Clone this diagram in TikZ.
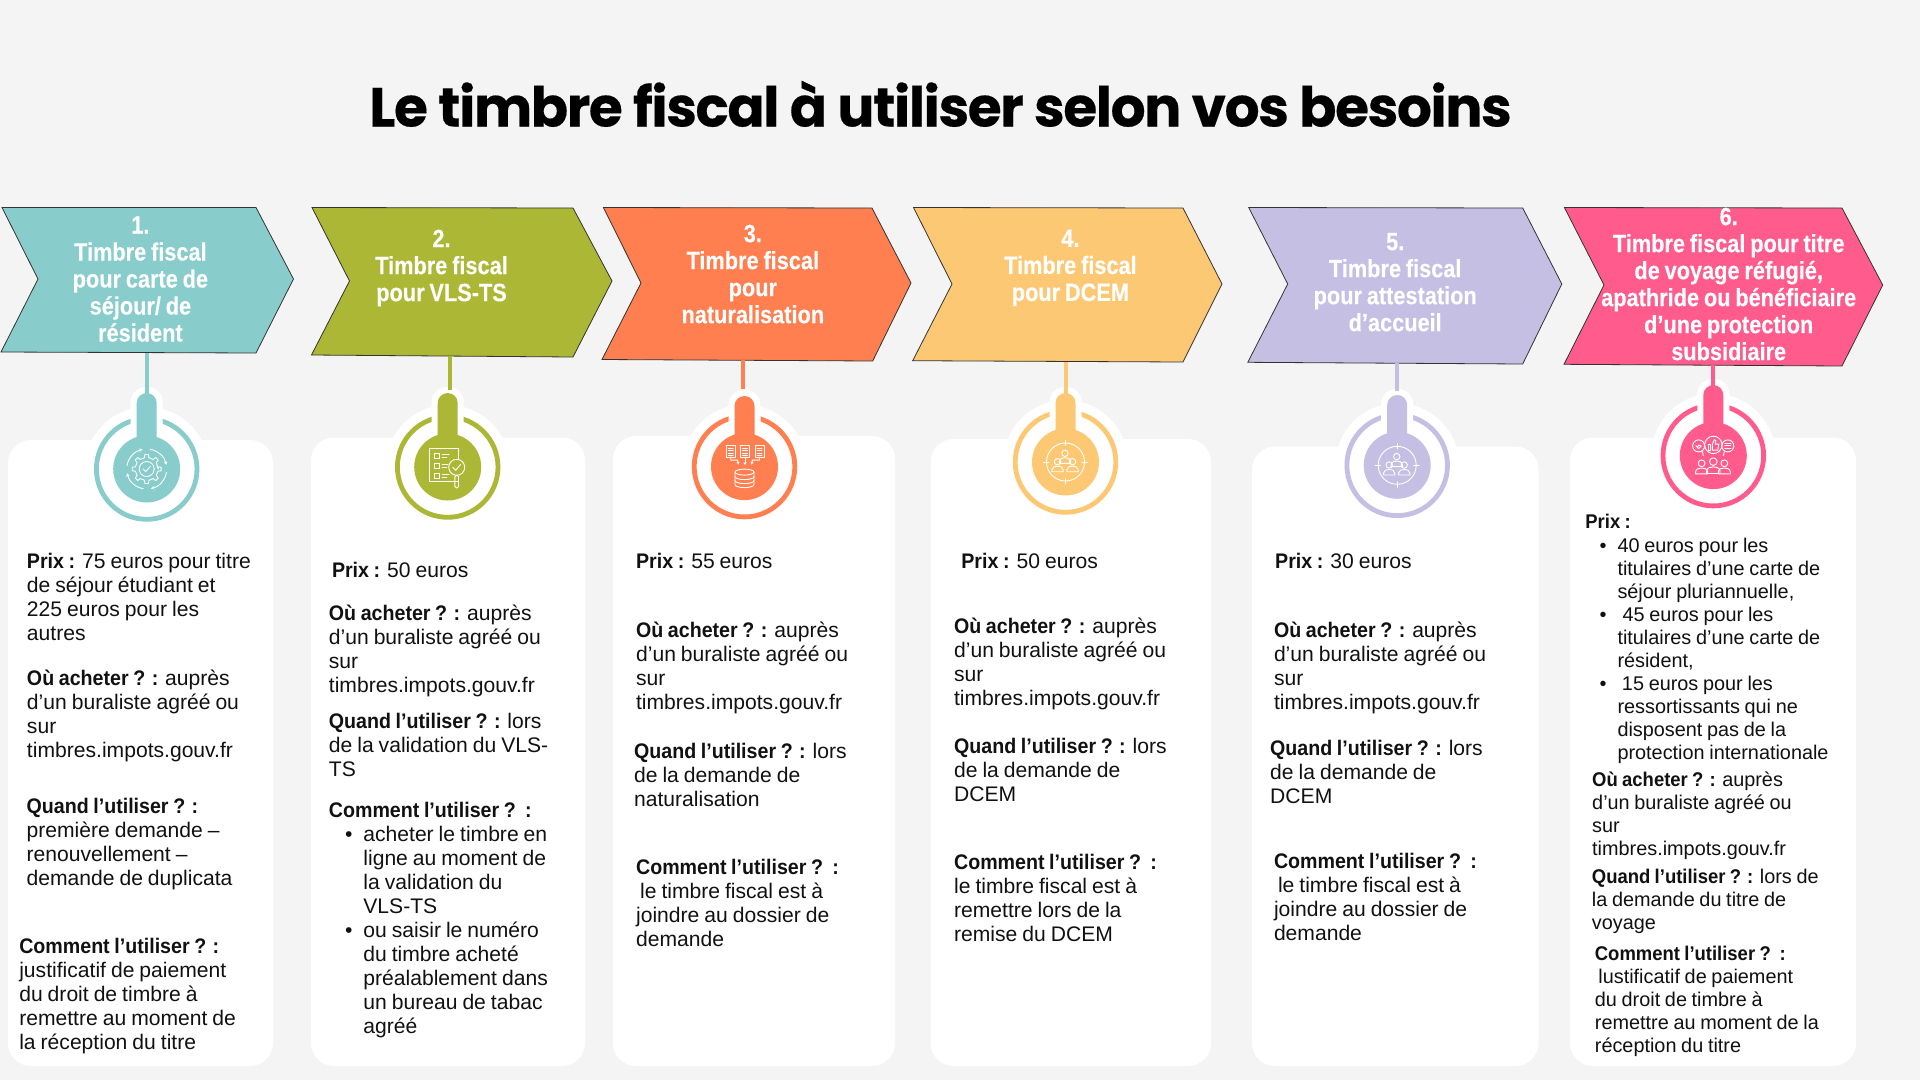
\documentclass[tikz,border=0pt]{standalone}
\usepackage{fontspec}
\usetikzlibrary{arrows.meta}
\setmainfont[WordSpace=0.85]{Liberation Sans}
\newfontfamily\titlef[LetterSpace=-2.55,FakeBold=0.3]{Poppins}
\newfontfamily\headf[FakeStretch=0.87,FakeBold=0.15,WordSpace=0.8]{Liberation Sans}
\newfontfamily\labf[FakeStretch=0.93,WordSpace=0.85]{Liberation Sans}
\newcommand\lab[1]{{\labf\bfseries #1}}
\definecolor{bgc}{HTML}{F4F4F4}
\definecolor{teal1}{HTML}{89CCCC}
\definecolor{olive1}{HTML}{ACB835}
\definecolor{coral1}{HTML}{FF7F50}
\definecolor{yell1}{HTML}{FDC874}
\definecolor{lav1}{HTML}{C5BFE3}
\definecolor{pink1}{HTML}{FF5C8D}
\definecolor{ink}{HTML}{111111}
\tikzset{
  x=1pt,y=-1pt,
  chev/.style={draw=black!80,line width=0.8pt,line join=miter},
  card/.style={fill=white,rounded corners=23pt},
  head/.style={anchor=north,inner sep=0pt,align=center,text=white,yshift=19.6pt,
     font=\headf\bfseries\fontsize{25}{27}\selectfont,execute at begin node=\strut},
  txt/.style={anchor=north west,inner sep=0pt,align=left,text=ink,yshift=17.6pt,
     font=\fontsize{21.1}{24}\selectfont,execute at begin node=\strut},
  txs/.style={anchor=north west,inner sep=0pt,align=left,text=ink,yshift=16.9pt,
     font=\fontsize{19.85}{23}\selectfont,execute at begin node=\strut},
  ic/.style={draw=white,line width=0.9pt,line join=round,line cap=round},
  link/.style={line width=4pt},
}
\newcommand\badge[4]{% colour, cx, cy, stem top
  \fill[white] (#2,#3) circle (62);
  \draw[#1,line width=4.8pt] (#2,#3) circle (50.3);
  \fill[white,rounded corners=15pt] ({#2-16},#3) rectangle ({#2+16},{#4-6});
  \fill[#1,rounded corners=10pt] ({#2-10},#3) -- ({#2-10},#4) -- ({#2+10},#4) -- ({#2+10},#3) -- cycle;
  \fill[#1] (#2,#3) circle (33.5);
}
\newcommand\personic[3]{%
  \begin{scope}[shift={(#1,#2)},scale=#3]
    \draw[ic] (0,0) circle (4);
    \draw[ic] (-7,12.5) -- (-7,10) .. controls (-7,6.5) and (-3,5.5) .. (0,5.5) .. controls (3,5.5) and (7,6.5) .. (7,10) -- (7,12.5) -- cycle;
  \end{scope}}
\newcommand\groupic[2]{%
  \begin{scope}[shift={(#1,#2)}]
    \draw[ic] (0,0) circle (19);
    \foreach \a in {0,90,180,270}{\draw[ic] (\a:16.5) -- (\a:22);}
    \personic{-0.5}{-8.7}{0.8}
    \personic{-8}{-0.3}{0.8}
    \personic{7}{-0.3}{0.8}
  \end{scope}}
\begin{document}
\begin{tikzpicture}
\useasboundingbox (0,0) rectangle (1920,1080);
\fill[bgc] (0,0) rectangle (1920,1080);

% title
\node[name=title,anchor=base west,inner sep=0pt,text=black,font=\titlef\bfseries\fontsize{55}{60}\selectfont] at (369,126.5) {Le timbre fiscal à utiliser selon vos besoins};

% cards
\path[card] (8,440) rectangle (273,1066);
\path[card] (311,437.5) rectangle (585,1066);
\path[card] (613,436) rectangle (895,1066);
\path[card] (930.5,439) rectangle (1211,1066);
\path[card] (1252,446.5) rectangle (1538.5,1066);
\path[card] (1570,437.5) rectangle (1856,1066);

% chevrons
\filldraw[chev,fill=teal1] (2,207.5) -- (256,207.5) -- (293.5,279) -- (256,353) -- (1,352) -- (38,279) -- cycle;
\filldraw[chev,fill=olive1] (312,207.5) -- (573,208) -- (612,281) -- (573,357) -- (311.5,355) -- (349.5,281) -- cycle;
\filldraw[chev,fill=coral1] (603.4,207.5) -- (872,208) -- (911,283) -- (872.7,361) -- (602,359.5) -- (641,283) -- cycle;
\filldraw[chev,fill=yell1] (913.5,207.5) -- (1183,208) -- (1222,284) -- (1183,362) -- (912.7,360.7) -- (952,284) -- cycle;
\filldraw[chev,fill=lav1] (1248.7,207.5) -- (1522.7,208) -- (1561.8,284) -- (1522.7,364) -- (1247.8,362.3) -- (1287.7,284) -- cycle;
\filldraw[chev,fill=pink1] (1564.4,207.5) -- (1842,208) -- (1882.7,285) -- (1842,366) -- (1564,364.3) -- (1604,285) -- cycle;

% badges
\badge{teal1}{146.7}{469}{393}
\badge{olive1}{447.7}{467}{393}
\badge{coral1}{744.5}{466.6}{396}
\badge{yell1}{1065.5}{462}{393}
\badge{lav1}{1397.2}{465.3}{395}
\badge{pink1}{1713.3}{455.6}{385}

% connectors
\coordinate (c1a) at (147,353); \coordinate (c1b) at (147,394);
\coordinate (c2a) at (449.5,356); \coordinate (c2b) at (449.5,390);
\coordinate (c3a) at (743,360); \coordinate (c3b) at (743,389);
\coordinate (c4a) at (1065.5,361.5); \coordinate (c4b) at (1065.5,394);
\coordinate (c5a) at (1397.4,363); \coordinate (c5b) at (1397.4,391);
\coordinate (c6a) at (1713,365); \coordinate (c6b) at (1713,386);
\draw[link,teal1] (c1a) -- (c1b);
\draw[link,olive1] (c2a) -- (c2b);
\draw[link,coral1] (c3a) -- (c3b);
\draw[link,yell1] (c4a) -- (c4b);
\draw[link,lav1] (c5a) -- (c5b);
\draw[link,pink1] (c6a) -- (c6b);

% icon 1 : gear
\begin{scope}[shift={(146.7,469)}]
  \draw[ic] (0,0) circle (7.5);
  \draw[ic] (-3.5,0) -- (-1,2.6) -- (3.6,-2.6);
  \draw[ic] (0:11.5) \foreach \a in {0,45,...,315}{ -- ({\a-11}:11.5) -- ({\a-7}:14.6) -- ({\a+7}:14.6) -- ({\a+11}:11.5)} -- cycle;
  \foreach \a in {10,100,190,280}{\draw[ic,-{Stealth[length=3.5pt,width=3.5pt]}] (\a:20) arc (\a:\a+68:20);}
\end{scope}

% icon 2 : checklist
\begin{scope}[shift={(447.7,467)}]
  \draw[ic] (-18.7,-18.7) rectangle (10.7,14.7);
  \foreach \yy in {-11.3,-1.3,8.7}{
    \draw[ic] (-13.3,\yy-2.5) rectangle (-8.3,\yy+2.5);
    \draw[ic] (-5.5,\yy-1.5) -- (1.5,\yy-1.5);
    \draw[ic] (-5.5,\yy+1.5) -- (-1,\yy+1.5);
  }
  \fill[olive1] (9,0.3) circle (8.8);
  \draw[ic] (9,0.3) circle (8);
  \draw[ic] (5,0.3) -- (8,3.3) -- (13,-2.7);
  \draw[ic,rounded corners=1.5pt] (7.2,8.3) rectangle (10.8,21);
\end{scope}

% icon 3 : documents to database
\begin{scope}[shift={(744.5,466.6)}]
  \foreach \xx in {-13.8,0.5,15}{
    \draw[ic] (\xx-4.5,-21) rectangle (\xx+4.5,-9.5);
    \foreach \yy in {-18.5,-16,-13.5,-11.5}{\draw[ic,line width=0.6pt] (\xx-2.5,\yy) -- (\xx+2.5,\yy);}
  }
  \draw[ic,-{Stealth[length=3pt,width=3pt]}] (-13.8,-9.5) -- (-13.8,-6.5) -- (-7,-6.5) -- (-6,-2);
  \draw[ic,-{Stealth[length=3pt,width=3pt]}] (0.5,-9.5) -- (0.5,-1.5);
  \draw[ic,-{Stealth[length=3pt,width=3pt]}] (15,-9.5) -- (15,-6.5) -- (8,-6.5) -- (7,-2);
  \draw[ic] (0,5.5) ellipse (9.5 and 3);
  \draw[ic] (-9.5,5.5) -- (-9.5,18) arc (180:0:9.5 and 3) -- (9.5,5.5);
  \draw[ic] (-9.5,10) arc (180:0:9.5 and 3);
  \draw[ic] (-9.5,14) arc (180:0:9.5 and 3);
\end{scope}

% icon 4 and 5 : group in target
\groupic{1065.5}{462}
\groupic{1397.2}{465.3}

% icon 6 : speech bubbles and people
\begin{scope}[shift={(1713.3,455.6)}]
  \draw[ic] (0,-10.7) circle (8.7);
  \draw[ic] (-14.7,-9.7) circle (6);
  \draw[ic] (14.5,-9.7) circle (6);
  \draw[ic] (-14.7,-7) -- (-17.5,-10) arc (180:0:1.4) -- (-14.7,-10.5) -- (-12,-9.7) -- cycle;
  \foreach \yy in {-12,-9.7,-7.4}{\draw[ic] (11.5,\yy) -- (17.5,\yy);}
  \draw[ic] (-5,-11.5) rectangle (-2.5,-5.5);
  \draw[ic] (-1,-11) -- (1,-16) -- (2.5,-15) -- (2,-11.5) -- (5.5,-11.5) -- (4.5,-5.5) -- (-1,-5.5) -- cycle;
  \draw[ic] (-11,-4) -- (-10,0);
  \draw[ic] (11,-4) -- (10,0);
  \personic{-11.7}{7.7}{0.85}
  \personic{11}{7.7}{0.85}
  \personic{0}{6}{0.95}
\end{scope}

% chevron headings
\node[head,name=h1] at (140.4,235.7) {1.\\Timbre fiscal\\pour carte de\\séjour/ de\\résident};
\node[head,name=h2] at (441.5,249.1) {2.\\Timbre fiscal\\pour VLS-TS};
\node[head,name=h3] at (752.8,244.1) {3.\\Timbre fiscal\\pour\\naturalisation};
\node[head,name=h4] at (1070.4,249.1) {4.\\Timbre fiscal\\pour DCEM};
\node[head,name=h5] at (1395.2,252.4) {5.\\Timbre fiscal\\pour attestation\\d’accueil};
\node[head,name=h6] at (1728.7,227.1) {6.\\Timbre fiscal pour titre\\de voyage réfugié,\\apathride ou bénéficiaire\\d’une protection\\subsidiaire};

% card 1
\node[txt,name=a1] at (26.8,570.3) {\lab{Prix :} 75 euros pour titre\\de séjour étudiant et\\225 euros pour les\\autres};
\node[txt,name=a2] at (26.8,687.1) {\lab{Où acheter ? :} auprès\\d’un buraliste agréé ou\\sur\\timbres.impots.gouv.fr};
\node[txt,name=a3] at (26.4,815.2) {\lab{Quand l’utiliser ? :}\\première demande –\\renouvellement –\\demande de duplicata};
\node[txt,name=a4] at (19.1,955.2) {\lab{Comment l’utiliser ? :}\\justificatif de paiement\\du droit de timbre à\\remettre au moment de\\la réception du titre};

% card 2
\node[txt,name=b1] at (331.8,577.7) {\lab{Prix :} 50 euros};
\node[txt,name=b2] at (328.7,622.2) {\lab{Où acheter ? :} auprès\\d’un buraliste agréé ou\\sur\\timbres.impots.gouv.fr};
\node[txt,name=b3] at (328.7,730.3) {\lab{Quand l’utiliser ? :} lors\\de la validation du VLS-\\TS};
\node[txt,name=b4] at (328.7,818) {\lab{Comment l’utiliser ?\ \ :}};
\node[txt,name=b5] at (363.2,843.6) {\llap{\textbullet\hspace{11pt}}acheter le timbre en\\ligne au moment de\\la validation du\\VLS-TS};
\node[txt,name=b6] at (363.2,939.4) {\llap{\textbullet\hspace{11pt}}ou saisir le numéro\\du timbre acheté\\préalablement dans\\un bureau de tabac\\agréé};

% card 3
\node[txt,name=c1] at (635.9,569.5) {\lab{Prix :} 55 euros};
\node[txt,name=c2] at (635.9,639.1) {\lab{Où acheter ? :} auprès\\d’un buraliste agréé ou\\sur\\timbres.impots.gouv.fr};
\node[txt,name=c3] at (633.9,760.4) {\lab{Quand l’utiliser ? :} lors\\de la demande de\\naturalisation};
\node[txt,name=c4] at (635.9,876.3) {\lab{Comment l’utiliser ?\ \ :}\\\hspace*{4pt}le timbre fiscal est à\\joindre au dossier de\\demande};

% card 4
\node[txt,name=d1] at (961.2,569.5) {\lab{Prix :} 50 euros};
\node[txt,name=d2] at (953.9,635.2) {\lab{Où acheter ? :} auprès\\d’un buraliste agréé ou\\sur\\timbres.impots.gouv.fr};
\node[txt,name=d3] at (953.9,755.6) {\lab{Quand l’utiliser ? :} lors\\de la demande de\\DCEM};
\node[txt,name=d4] at (953.9,872) {\lab{Comment l’utiliser ?\ \ :}\\le timbre fiscal est à\\remettre lors de la\\remise du DCEM};

% card 5
\node[txt,name=e1] at (1275,569.2) {\lab{Prix :} 30 euros};
\node[txt,name=e2] at (1273.8,639.3) {\lab{Où acheter ? :} auprès\\d’un buraliste agréé ou\\sur\\timbres.impots.gouv.fr};
\node[txt,name=e3] at (1270,757.3) {\lab{Quand l’utiliser ? :} lors\\de la demande de\\DCEM};
\node[txt,name=e4] at (1273.8,870.5) {\lab{Comment l’utiliser ?\ \ :}\\\hspace*{4pt}le timbre fiscal est à\\joindre au dossier de\\demande};

% card 6
\node[txs,name=f1] at (1585.2,528.9) {\lab{Prix :}};
\node[txs,name=f2] at (1617.3,554.9) {\llap{\textbullet\hspace{11pt}}40 euros pour les\\titulaires d’une carte de\\séjour pluriannuelle,};
\node[txs,name=f3] at (1617.3,623.9) {\llap{\textbullet\hspace{11pt}}\hspace*{5pt}45 euros pour les\\titulaires d’une carte de\\résident,};
\node[txs,name=f4] at (1617.3,692.9) {\llap{\textbullet\hspace{11pt}}\hspace*{4.5pt}15 euros pour les\\ressortissants qui ne\\disposent pas de la\\protection internationale};
\node[txs,name=f5] at (1592,789) {\lab{Où acheter ? :} auprès\\d’un buraliste agréé ou\\sur\\timbres.impots.gouv.fr};
\node[txs,name=f6] at (1591.7,885.7) {\lab{Quand l’utiliser ? :} lors de\\la demande du titre de\\voyage};
\node[txs,name=f7] at (1594.7,962.6) {\lab{Comment l’utiliser ?\ \ :}\\\hspace*{3.5pt}lustificatif de paiement\\du droit de timbre à\\remettre au moment de la\\réception du titre};
\end{tikzpicture}
\end{document}
